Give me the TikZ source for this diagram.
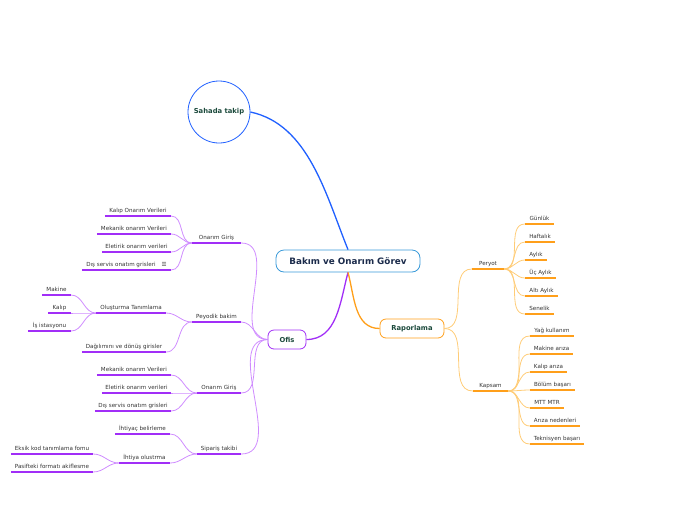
\documentclass[tikz,border=0pt]{standalone}
\usepackage{fontspec}
\setmainfont{DejaVu Sans}
\usetikzlibrary{positioning,calc}

\definecolor{ofispurple}{HTML}{A12EF7}
\definecolor{ofislight}{HTML}{CF8CFF}
\definecolor{raporange}{HTML}{FF9F1A}
\definecolor{raplight}{HTML}{FFCC77}
\definecolor{sahadablue}{HTML}{2060FF}
\definecolor{centerblue}{HTML}{3A9AD9}
\definecolor{topictext}{HTML}{1C4A3C}
\definecolor{centertext}{HTML}{1B2B4B}
\definecolor{leaftext}{HTML}{333333}

\begin{document}
\begin{tikzpicture}[
    x=1pt, y=-1pt,
    centerbox/.style={draw=centerblue, thick, rounded corners=8pt, fill=white, minimum width=144pt, minimum height=22pt, font=\fontsize{8.8}{10}\selectfont\bfseries, text=centertext},
    topicbox/.style={draw=#1, thick, rounded corners=6pt, fill=white, minimum height=19pt, font=\fontsize{6.8}{8}\selectfont\bfseries, text=topictext},
    sahadacircle/.style={draw=sahadablue, thick, circle, minimum size=62pt, font=\fontsize{6.8}{8}\selectfont\bfseries, text=topictext},
    leaf/.style={anchor=south, inner xsep=0pt, inner ysep=1.8pt, minimum width=#1, text height=4pt, text depth=1.2pt, font=\fontsize{5.6}{6}\selectfont, text=leaftext},
    ofisul/.style={draw=ofispurple, line width=1.6pt},
    rapul/.style={draw=raporange, line width=1.6pt},
    ofisline/.style={draw=ofislight, line width=0.8pt},
    rapline/.style={draw=raplight, line width=0.8pt}
]
\useasboundingbox (0,0) rectangle (696,520);

% ana konu ve ana dallar
\node[centerbox] (bakim) at (348,261) {Bakım ve Onarım Görev};
\node[sahadacircle] (sahada) at (219,112) {Sahada takip};
\node[topicbox=ofispurple, minimum width=38pt] (ofis) at (287,339.5) {Ofis};
\node[topicbox=raporange, minimum width=64pt] (rapor) at (412,328.5) {Raporlama};

\draw[draw=sahadablue, line width=1.3pt] (sahada.east) to[out=-12,in=112,looseness=0.9] (bakim.north);
\draw[draw=ofispurple, line width=1.3pt] (bakim.south) to[out=-105,in=0] (ofis.east);
\draw[draw=raporange, line width=1.3pt] (bakim.south) to[out=-75,in=180] (rapor.west);

% Ofis dalları
\node[leaf=49pt] (onarA)    at (216.5,243) {Onarım Giriş};
\node[leaf=66pt] (kalipA)   at (138,216)   {Kalıp Onarım Verileri};
\node[leaf=74pt] (mekA)     at (134,234)   {Mekanik onarım Verileri};
\node[leaf=69pt] (eleA)     at (136.5,252) {Eletirik onarım verileri};
\node[leaf=89pt] (disA)     at (126.5,270) {Dış servis onatım grisleri\hspace{6pt}☰};

\node[leaf=49pt] (peyodik)  at (216.5,322) {Peyodik bakim};
\node[leaf=70pt] (olustur)  at (131,313)   {Oluşturma Tanımlama};
\node[leaf=29pt] (makine)   at (56.5,295)  {Makine};
\node[leaf=23pt] (kalip)    at (59.5,313)  {Kalıp};
\node[leaf=43pt] (istasyon) at (49.5,331)  {İş istasyonu};
\node[leaf=84pt] (dagilim)  at (124,352)   {Dağılımını ve dönüş girisler};

\node[leaf=44pt] (onarB)    at (219,393)   {Onarım Giriş};
\node[leaf=74pt] (mekB)     at (134,375)   {Mekanik onarım Verileri};
\node[leaf=69pt] (eleB)     at (136.5,393) {Eletirik onarım verileri};
\node[leaf=76pt] (disB)     at (133,411)   {Dış servis onatım grisleri};

\node[leaf=44pt] (siparis)  at (219,454)   {Sipariş takibi};
\node[leaf=55pt] (ihtiyac)  at (142.5,434) {İhtiyaç belirleme};
\node[leaf=51pt] (ihtiya)   at (144.5,463) {İhtiya olustrma};
\node[leaf=82pt] (eksik)    at (52,454)    {Eksik kod tanımlama fomu};
\node[leaf=82pt] (pasif)    at (52,472)    {Pasifteki formatı akiflesme};

\foreach \n in {onarA,peyodik,onarB,siparis}
    \draw[ofisline] (ofis.west) to[out=180,in=0] (\n.south east);
\foreach \n in {kalipA,mekA,eleA,disA}
    \draw[ofisline] (onarA.south west) to[out=180,in=0] (\n.south east);
\foreach \n in {olustur,dagilim}
    \draw[ofisline] (peyodik.south west) to[out=180,in=0] (\n.south east);
\foreach \n in {makine,kalip,istasyon}
    \draw[ofisline] (olustur.south west) to[out=180,in=0] (\n.south east);
\foreach \n in {mekB,eleB,disB}
    \draw[ofisline] (onarB.south west) to[out=180,in=0] (\n.south east);
\foreach \n in {ihtiyac,ihtiya}
    \draw[ofisline] (siparis.south west) to[out=180,in=0] (\n.south east);
\foreach \n in {eksik,pasif}
    \draw[ofisline] (ihtiya.south west) to[out=180,in=0] (\n.south east);

\foreach \n in {onarA,kalipA,mekA,eleA,disA,peyodik,olustur,makine,kalip,istasyon,dagilim,onarB,mekB,eleB,disB,siparis,ihtiyac,ihtiya,eksik,pasif}
    \draw[ofisul] (\n.south west) -- (\n.south east);

% Raporlama dalları
\node[leaf=32pt] (peryot)    at (488,269)   {Peryot};
\node[leaf=29pt] (gunluk)    at (539.5,224) {Günlük};
\node[leaf=30pt] (haftalik)  at (540,242)   {Haftalık};
\node[leaf=22pt] (aylik)     at (536,260)   {Aylık};
\node[leaf=31pt] (ucaylik)   at (540.5,278) {Üç Aylık};
\node[leaf=33pt] (altiaylik) at (541.5,296) {Altı Aylık};
\node[leaf=29pt] (senelik)   at (539.5,314) {Senelik};

\node[leaf=35pt] (kapsam)    at (490.5,391) {Kapsam};
\node[leaf=44pt] (yag)       at (552,336)   {Yağ kullanım};
\node[leaf=43pt] (makariza)  at (551.5,354) {Makine arıza};
\node[leaf=37pt] (kalariza)  at (548.5,372) {Kalıp arıza};
\node[leaf=45pt] (bolum)     at (552.5,390) {Bölüm başarı};
\node[leaf=34pt] (mtt)       at (547,408)   {MTT MTR};
\node[leaf=50pt] (arizaned)  at (555,426)   {Arıza nedenleri};
\node[leaf=54pt] (teknisyen) at (557,444)   {Teknisyen başarı};

\foreach \n in {peryot,kapsam}
    \draw[rapline] (rapor.east) to[out=0,in=180] (\n.south west);
\foreach \n in {gunluk,haftalik,aylik,ucaylik,altiaylik,senelik}
    \draw[rapline] (peryot.south east) to[out=0,in=180] (\n.south west);
\foreach \n in {yag,makariza,kalariza,bolum,mtt,arizaned,teknisyen}
    \draw[rapline] (kapsam.south east) to[out=0,in=180] (\n.south west);

\foreach \n in {peryot,gunluk,haftalik,aylik,ucaylik,altiaylik,senelik,kapsam,yag,makariza,kalariza,bolum,mtt,arizaned,teknisyen}
    \draw[rapul] (\n.south west) -- (\n.south east);

\end{tikzpicture}
\end{document}
